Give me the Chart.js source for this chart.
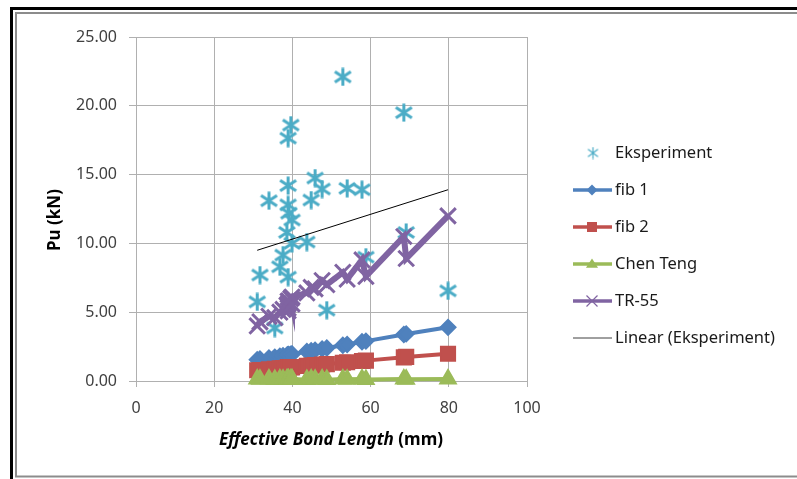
<!DOCTYPE html>
<html>
<head>
<meta charset="utf-8">
<script src="https://cdn.jsdelivr.net/npm/chart.js@4.4.1/dist/chart.umd.min.js"></script>
<style>
  html, body { margin: 0; padding: 0; background: #fff; }
  #chart { display: block; }
</style>
</head>
<body>
<canvas id="chart" width="797" height="479"></canvas>
<script>
// effective bond length (mm) of each specimen
const bondLength = [31, 31.7, 34, 35.5, 36.8, 37.6, 38.6, 38.9, 38.9, 38.9, 38.9, 39.1, 39.6, 39.9,
                    39.9, 43.7, 44.8, 45.8, 47.6, 48.8, 52.9, 54, 57.8, 58.8, 68.5, 69.1, 79.8];
// Pu (kN)
const eksperiment = [5.75, 7.7, 13.1, 3.85, 8.3, 9.15, 10.8, 7.55, 12.8, 14.2, 17.65, 12.2, 18.6, 11.7,
                     10.0, 10.1, 13.15, 14.75, 13.95, 5.15, 22.1, 14.0, 13.9, 9.0, 19.5, 10.8, 6.55];
const fib1 = [1.55, 1.6, 1.68, 1.74, 1.8, 1.84, 1.88, 1.9, 1.92, 1.9, 1.93, 1.92, 1.95, 1.96,
              1.95, 2.15, 2.2, 2.25, 2.33, 2.4, 2.6, 2.65, 2.85, 2.9, 3.38, 3.42, 3.9];
const fib2 = [0.78, 0.8, 0.85, 0.88, 0.92, 0.94, 0.96, 0.97, 0.98, 0.97, 0.98, 0.99, 1.0, 1.0,
              1.01, 1.1, 1.12, 1.15, 1.2, 1.23, 1.33, 1.36, 1.45, 1.48, 1.72, 1.75, 1.98];
const chenTeng = [0.15, 0.12, 0.15, 0.1, 0.15, 0.12, 0.15, 0.1, 0.15, 0.12, 0.15, 0.1, 0.15, 0.12,
                  0.15, 0.1, 0.15, 0.12, 0.15, 0.1, 0.15, 0.12, 0.15, 0.1, 0.15, 0.12, 0.15];
const tr55 = [4.0, 4.3, 4.7, 4.6, 5.0, 5.2, 5.5, 5.1, 5.8, 5.6, 5.3, 5.8, 6.0, 5.6,
              6.1, 6.4, 6.8, 6.7, 7.3, 7.0, 7.9, 7.4, 8.8, 7.6, 10.5, 8.9, 12.0];
// linear trend of Eksperiment, end points
const trendX = [31, 79.8];
const trendY = [9.5, 13.9];

const xTicks = [0, 20, 40, 60, 80, 100];
const yTicks = [0, 5, 10, 15, 20, 25];

const FONT = '"Noto Sans", "Open Sans", sans-serif';
const GRID = '#b0b0b0';

function toPoints(xs, ys) {
    return xs.map((x, i) => ({ x: x, y: ys[i] }));
}

function makeAsterisk(size, lw) {
    const c = document.createElement('canvas');
    c.width = size;
    c.height = size;
    const g = c.getContext('2d');
    g.strokeStyle = '#4BACC6';
    g.lineWidth = lw;
    const m = size / 2;
    g.beginPath();
    g.moveTo(m, 0.5); g.lineTo(m, size - 0.5);
    g.moveTo(1.5, size * 0.22); g.lineTo(size - 1.5, size * 0.78);
    g.moveTo(1.5, size * 0.78); g.lineTo(size - 1.5, size * 0.22);
    g.stroke();
    return c;
}

const starBig = makeAsterisk(19, 3);
const starSmall = makeAsterisk(13, 1.2);

// simple marker drawer for the side legend
function drawMarker(ctx, style, x, y, r, color) {
    ctx.fillStyle = color;
    ctx.strokeStyle = color;
    ctx.beginPath();
    if (style === 'rectRot') {
        ctx.moveTo(x, y - r); ctx.lineTo(x + r, y); ctx.lineTo(x, y + r); ctx.lineTo(x - r, y);
        ctx.closePath(); ctx.fill();
    } else if (style === 'rect') {
        ctx.rect(x - r, y - r, 2 * r, 2 * r); ctx.fill();
    } else if (style === 'triangle') {
        ctx.moveTo(x, y - r); ctx.lineTo(x + r * 1.1, y + r * 0.7); ctx.lineTo(x - r * 1.1, y + r * 0.7);
        ctx.closePath(); ctx.fill();
    } else if (style === 'crossRot') {
        ctx.lineWidth = 1.2;
        ctx.moveTo(x - r, y - r); ctx.lineTo(x + r, y + r);
        ctx.moveTo(x - r, y + r); ctx.lineTo(x + r, y - r);
        ctx.stroke();
    }
}

const legendItems = [
    { label: 'Eksperiment', star: true },
    { label: 'fib 1', color: '#4F81BD', lw: 3.5, marker: 'rectRot', r: 5.5 },
    { label: 'fib 2', color: '#C0504D', lw: 3.5, marker: 'rect', r: 5 },
    { label: 'Chen Teng', color: '#9BBB59', lw: 3.5, marker: 'triangle', r: 5.5 },
    { label: 'TR-55', color: '#8064A2', lw: 3.5, marker: 'crossRot', r: 5.5 },
    { label: 'Linear (Eksperiment)', color: '#404040', lw: 1 }
];

const decorPlugin = {
    id: 'decor',
    beforeDraw(chart) {
        const ctx = chart.ctx;
        ctx.save();
        ctx.fillStyle = '#ffffff';
        ctx.fillRect(0, 0, chart.width, chart.height);
        // outer frame
        ctx.strokeStyle = '#000000';
        ctx.lineWidth = 3;
        ctx.strokeRect(11.5, 8.5, 900, 600);
        ctx.strokeStyle = '#8c8c8c';
        ctx.lineWidth = 2;
        ctx.strokeRect(16, 13, 900, 463.5);
        ctx.restore();
    },
    afterDraw(chart) {
        const ctx = chart.ctx;
        ctx.save();
        // axis titles
        ctx.fillStyle = '#000000';
        ctx.textBaseline = 'middle';
        ctx.font = 'bold 17px ' + FONT;
        ctx.save();
        ctx.translate(55, 220);
        ctx.rotate(-Math.PI / 2);
        ctx.textAlign = 'center';
        ctx.fillText('Pu (kN)', 0, 0);
        ctx.restore();

        const part1 = 'Effective Bond Length';
        const part2 = ' (mm)';
        ctx.font = 'italic bold 17px ' + FONT;
        const w1 = ctx.measureText(part1).width;
        ctx.font = 'bold 17px ' + FONT;
        const w2 = ctx.measureText(part2).width;
        const x0 = 331 - (w1 + w2) / 2;
        ctx.textAlign = 'left';
        ctx.font = 'italic bold 17px ' + FONT;
        ctx.fillText(part1, x0, 440);
        ctx.font = 'bold 17px ' + FONT;
        ctx.fillText(part2, x0 + w1, 440);

        // side legend
        ctx.font = '16.5px ' + FONT;
        legendItems.forEach((it, i) => {
            const y = 153 + i * 37;
            if (it.star) {
                ctx.drawImage(starSmall, 593 - starSmall.width / 2, y - starSmall.height / 2);
            } else {
                ctx.strokeStyle = it.color;
                ctx.lineWidth = it.lw;
                ctx.beginPath();
                ctx.moveTo(573, y);
                ctx.lineTo(612, y);
                ctx.stroke();
                if (it.marker) drawMarker(ctx, it.marker, 592, y, it.r, it.color);
            }
            ctx.fillStyle = '#1a1a1a';
            ctx.textAlign = 'left';
            ctx.fillText(it.label, 615, y);
        });
        ctx.restore();
    }
};

const ctx = document.getElementById('chart').getContext('2d');
const chart = new Chart(ctx, {
    type: 'scatter',
    data: {
        datasets: [
            {
                label: 'Eksperiment',
                data: toPoints(bondLength, eksperiment),
                pointStyle: starBig,
                showLine: false,
                order: 5
            },
            {
                label: 'fib 1',
                data: toPoints(bondLength, fib1),
                showLine: true,
                borderColor: '#4F81BD',
                backgroundColor: '#4F81BD',
                borderWidth: 4,
                pointStyle: 'rectRot',
                pointRadius: 7.5,
                pointBorderWidth: 2,
                order: 4
            },
            {
                label: 'fib 2',
                data: toPoints(bondLength, fib2),
                showLine: true,
                borderColor: '#C0504D',
                backgroundColor: '#C0504D',
                borderWidth: 4,
                pointStyle: 'rect',
                pointRadius: 10,
                pointBorderWidth: 2,
                order: 3
            },
            {
                label: 'Chen Teng',
                data: toPoints(bondLength, chenTeng),
                showLine: true,
                borderColor: '#9BBB59',
                backgroundColor: '#9BBB59',
                borderWidth: 4,
                pointStyle: 'triangle',
                pointRadius: 9,
                pointBorderWidth: 2,
                order: 2
            },
            {
                label: 'TR-55',
                data: toPoints(bondLength, tr55),
                showLine: true,
                borderColor: '#8064A2',
                backgroundColor: '#8064A2',
                borderWidth: 6,
                pointStyle: 'crossRot',
                pointRadius: 11,
                pointBorderWidth: 3,
                order: 1
            },
            {
                label: 'Linear (Eksperiment)',
                data: toPoints(trendX, trendY),
                showLine: true,
                borderColor: '#000000',
                borderWidth: 1,
                pointRadius: 0,
                order: 0
            }
        ]
    },
    options: {
        responsive: false,
        animation: false,
        clip: false,
        layout: { padding: { left: 0, right: 270, top: 37, bottom: 0 } },
        plugins: {
            legend: { display: false },
            tooltip: { enabled: false }
        },
        scales: {
            x: {
                type: 'linear',
                min: 0,
                max: 100,
                afterFit: s => { s.height = 98; },
                afterBuildTicks: s => { s.ticks = xTicks.map(v => ({ value: v })); },
                grid: { color: GRID, tickLength: 6, tickColor: GRID },
                border: { color: GRID, width: 1 },
                ticks: {
                    color: '#404040',
                    padding: 12,
                    font: { family: FONT, size: 16 },
                    callback: v => String(v)
                }
            },
            y: {
                type: 'linear',
                min: 0,
                max: 25,
                afterFit: s => { s.width = 136; },
                afterBuildTicks: s => { s.ticks = yTicks.map(v => ({ value: v })); },
                grid: { color: GRID, tickLength: 7, tickColor: GRID },
                border: { color: GRID, width: 1 },
                ticks: {
                    color: '#404040',
                    padding: 12,
                    font: { family: FONT, size: 16 },
                    callback: v => v.toFixed(2)
                }
            }
        }
    },
    plugins: [decorPlugin]
});
</script>
</body>
</html>
